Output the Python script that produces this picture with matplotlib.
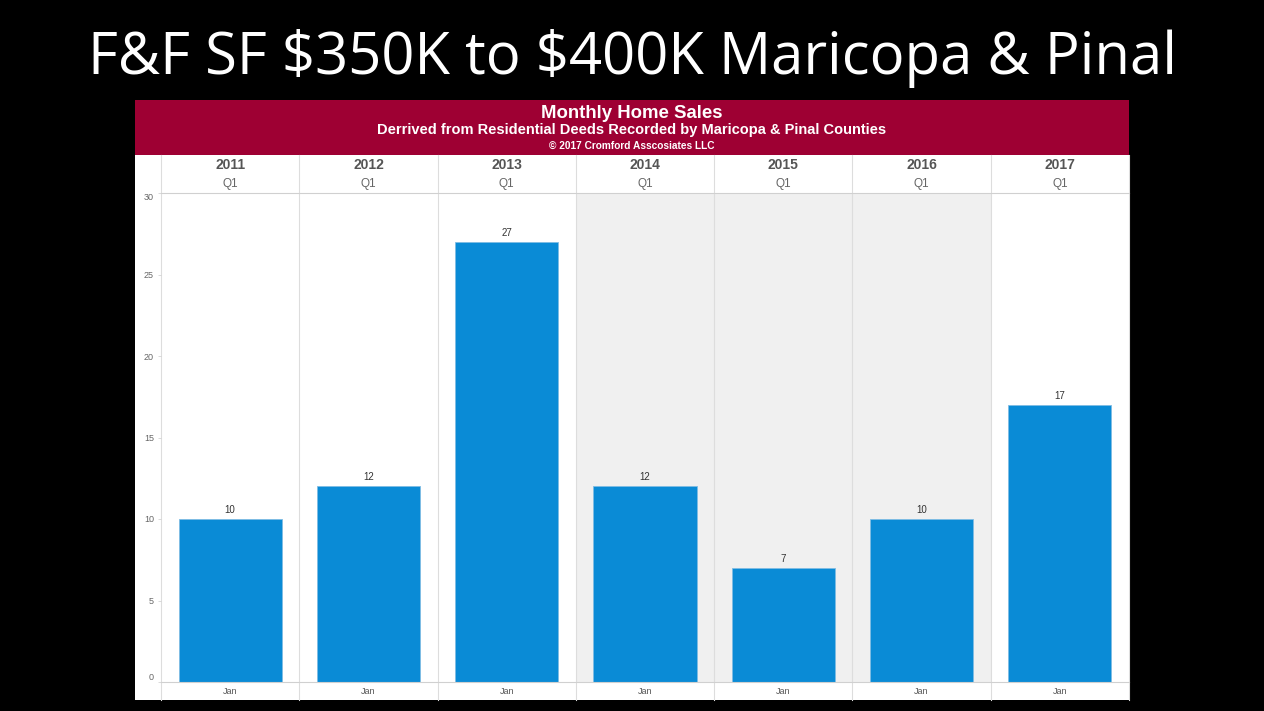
import matplotlib.pyplot as plt

years = ["2011", "2012", "2013", "2014", "2015", "2016", "2017"]
quarters = ["Q1", "Q1", "Q1", "Q1", "Q1", "Q1", "Q1"]
months = ["Jan", "Jan", "Jan", "Jan", "Jan", "Jan", "Jan"]
sales = [10, 12, 27, 12, 7, 10, 17]
shaded = ["2014", "2015", "2016"]
yticks = [0, 5, 10, 15, 20, 25, 30]

W, H = 1264, 711


def rect(x0, y0, x1, y1):
    # pixel box (top-left origin) -> figure fraction rect
    return [x0 / W, 1 - y1 / H, (x1 - x0) / W, (y1 - y0) / H]


plt.rcParams['font.family'] = ['Liberation Sans', 'DejaVu Sans']

fig = plt.figure(figsize=(12.64, 7.11), dpi=100, facecolor="black")

fig.text(0.5, 1 - 58 / H, r"F&F SF \$350K to \$400K Maricopa & Pinal",
         color="white", fontsize=41.8, ha="center", va="center",
         family=["Open Sans", "DejaVu Sans"])

# white panel
panel = fig.add_axes(rect(135, 100, 1129, 700))
panel.set_facecolor("white")
panel.set_xticks([])
panel.set_yticks([])
for s in panel.spines.values():
    s.set_visible(False)

# red header band
head = fig.add_axes(rect(135, 100, 1129, 155))
head.set_facecolor("#9E0033")
head.set_xticks([])
head.set_yticks([])
for s in head.spines.values():
    s.set_visible(False)
cx = (135 + 1129) / 2 / W
fig.text(cx, 1 - 114 / H, "Monthly Home Sales", color="white",
         fontsize=13.4, fontweight="bold", ha="center", va="center")
fig.text(cx, 1 - 130 / H,
         "Derrived from Residential Deeds Recorded by Maricopa & Pinal Counties",
         color="white", fontsize=10.5, fontweight="bold", ha="center", va="center")
fig.text(cx, 1 - 146 / H, "\u00a9 2017 Cromford Asscosiates LLC", color="white",
         fontsize=7.3, fontweight="bold", ha="center", va="center")

# main plot
ax = fig.add_axes(rect(161, 193, 1129, 682))
ax.set_facecolor("white")
n = len(years)
ax.set_xlim(-0.5, n - 0.5)
ax.set_ylim(0, 30)
xs = list(range(n))

for i, y in enumerate(years):
    if y in shaded:
        ax.axvspan(i - 0.5, i + 0.5, color="#F0F0F0", zorder=0, lw=0)

ax.bar(xs, sales, width=0.745, color="#0A8BD6", edgecolor="#7FBCE4",
       linewidth=0.6, zorder=2)
for x, v in zip(xs, sales):
    ax.text(x, v + 0.25, str(v), ha="center", va="bottom", fontsize=7,
            color="#333333")

tr = ax.get_xaxis_transform()
hpx = 682 - 193
top = (682 - 155) / hpx
bot = (682 - 700) / hpx
for i in range(n + 1):
    ax.plot([i - 0.5, i - 0.5], [bot, top], transform=tr, color="#DDDDDD",
            lw=0.8, clip_on=False, zorder=1)
ax.plot([-0.5, n - 0.5], [1, 1], transform=tr, color="#D0D0D0", lw=0.8,
        clip_on=False, zorder=3)
ax.plot([-0.5, n - 0.5], [0, 0], transform=tr, color="#D0D0D0", lw=0.8,
        clip_on=False, zorder=3)

for i in range(n):
    ax.text(i, (682 - 165) / hpx, years[i], transform=tr, ha="center",
            va="center", fontsize=10, fontweight="bold", color="#555555")
    ax.text(i, (682 - 183.5) / hpx, quarters[i], transform=tr, ha="center",
            va="center", fontsize=8.5, color="#666666")
    ax.text(i, (682 - 691) / hpx, months[i], transform=tr, ha="center",
            va="center", fontsize=6.5, color="#555555")

ax.set_xticks([])
ax.set_yticks(yticks)
labels = ax.set_yticklabels([str(t) for t in yticks], fontsize=6.5,
                            color="#666666")
# end labels sit inside the plot range
labels[0].set_va("bottom")
labels[-1].set_va("top")
ax.tick_params(axis="y", length=2, width=0.5, color="#CCCCCC", pad=3)
for s in ax.spines.values():
    s.set_visible(False)

fig.savefig("out.png", dpi=100, facecolor="black")
